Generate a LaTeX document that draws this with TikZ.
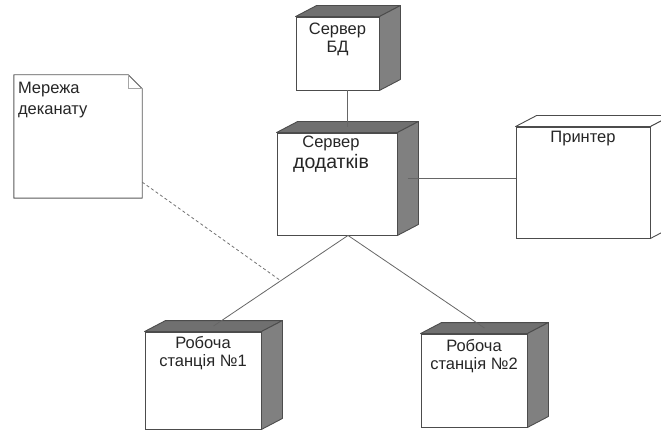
\documentclass[tikz,border=0pt]{standalone}
\usepackage{fontspec}
\setmainfont{Liberation Sans}
\usetikzlibrary{positioning, calc}

\begin{document}
\begin{tikzpicture}[x=1pt, y=-1pt,
    devbox/.style={draw=black!70, fill=white, line width=0.9pt, inner sep=0pt},
    face/.style={draw=black!70, fill=black!50, line width=0.9pt, line join=round},
    topface/.style={face, fill=black!56},
    lightface/.style={draw=black!70, fill=white, line width=0.9pt, line join=round},
    notebox/.style={inner sep=0pt, fill=white},
    lbl/.style={font=\fontsize{16.5}{18}\selectfont, align=center, inner sep=0pt, text=black!85},
    link/.style={draw=black!60, line width=0.8pt},
    notelink/.style={draw=black!55, dash pattern=on 3pt off 2.5pt, line width=0.8pt}
]
\useasboundingbox (0,0) rectangle (661,430);
\clip (0,0) rectangle (661,430);

% --- Nodes (front faces) ---
\node[devbox, minimum width=83pt, minimum height=73pt] (bd) at (337.5, 53.5) {};
\node[devbox, minimum width=120pt, minimum height=102pt] (app) at (337, 184) {};
\node[devbox, minimum width=134pt, minimum height=111pt] (prn) at (583, 182.5) {};
\node[devbox, minimum width=116pt, minimum height=97pt] (ws1) at (203, 380.5) {};
\node[devbox, minimum width=106pt, minimum height=93pt] (ws2) at (474, 380.5) {};
\node[notebox, minimum width=128pt, minimum height=123pt] (note) at (78, 136.5) {};

% --- Depth faces ---
\foreach \n in {bd, app, ws1, ws2} {
  \filldraw[topface] (\n.north west) -- ++(21,-11) -- ($(\n.north east)+(21,-11)$) -- (\n.north east) -- cycle;
  \filldraw[face] (\n.north east) -- ++(21,-11) -- ($(\n.south east)+(21,-11)$) -- (\n.south east) -- cycle;
}
\filldraw[lightface] (prn.north west) -- ++(21,-11) -- ($(prn.north east)+(21,-11)$) -- (prn.north east) -- cycle;
\filldraw[lightface] (prn.north east) -- ++(21,-11) -- ($(prn.south east)+(21,-11)$) -- (prn.south east) -- cycle;

% --- Note outline ---
\draw[draw=black!65, line width=0.9pt, line join=round] (note.south west) -- (note.north west)
  -- ($(note.north east)+(-14,0)$) -- ($(note.north east)+(0,14)$) -- (note.south east) -- cycle;
\draw[draw=black!35, line width=0.6pt] ($(note.north east)+(-14,0)$) |- ($(note.north east)+(0,14)$);

% --- Labels ---
\node[lbl, below=6pt of bd.north] (bd-t) {Сервер\\БД};
\node[lbl, below=3pt of app.north, xshift=-6pt] (app-t) {Сервер\\[3pt]{\fontsize{19.5}{21}\selectfont додатків}};
\node[lbl, below=4pt of prn.north] (prn-t) {Принтер};
\node[lbl, below=5pt of ws1.north] (ws1-t) {Робоча\\станція №1};
\node[lbl, below=6pt of ws2.north] (ws2-t) {Робоча\\станція №2};
\node[lbl, align=left, anchor=north west, font=\fontsize{16.5}{21}\selectfont] (note-t) at ($(note.north west)+(4,7)$) {Мережа\\деканату};

% --- Connectors ---
\coordinate (app-top) at ($(app.north)+(10.5,-5.5)$);
\coordinate (app-side) at ($(app.east)+(10.5,-5.5)$);
\coordinate (app-bot) at ($(app.south)+(11,0)$);
\coordinate (ws1-top) at ($(ws1.north)+(10.5,-5.5)$);
\coordinate (ws2-top) at ($(ws2.north)+(10.5,-5.5)$);
\coordinate (ws1-mid) at ($(app-bot)!0.5!(ws1-top)$);

\draw[link] (bd.south -| app-top) -- (app-top);
\draw[link] (app-side) -- (app-side -| prn.west);
\draw[link] (app-bot) -- (ws1-top);
\draw[link] (app-bot) -- (ws2-top);
\draw[notelink] (note) -- (ws1-mid);

\end{tikzpicture}
\end{document}
